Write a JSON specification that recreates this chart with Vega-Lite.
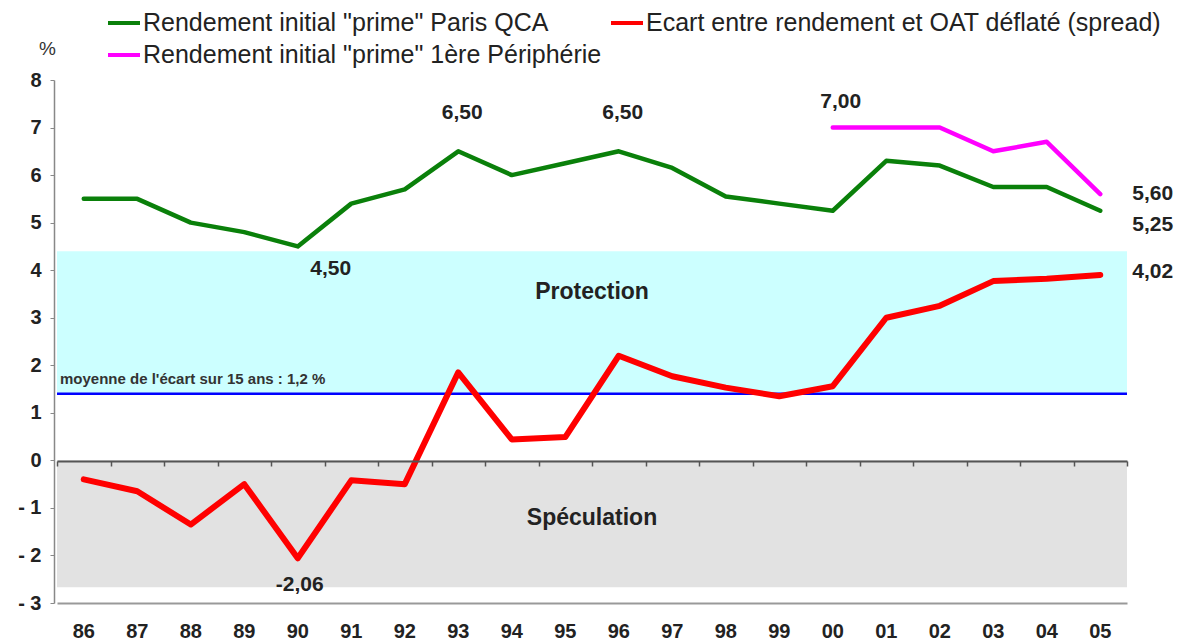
{
  "$schema": "https://vega.github.io/schema/vega-lite/v6.json",
  "width": 1070,
  "height": 523,
  "autosize": {"type": "none"},
  "padding": {"left": 57, "top": 80, "right": 69, "bottom": 41},
  "config": {"view": {"stroke": null}, "font": "Liberation Sans", "axis": {"grid": false}},
  "datasets": {
    "series": [
      {"year": "86", "series": "Rendement initial \"prime\" Paris QCA", "value": 5.5},
      {"year": "87", "series": "Rendement initial \"prime\" Paris QCA", "value": 5.5},
      {"year": "88", "series": "Rendement initial \"prime\" Paris QCA", "value": 5.0},
      {"year": "89", "series": "Rendement initial \"prime\" Paris QCA", "value": 4.8},
      {"year": "90", "series": "Rendement initial \"prime\" Paris QCA", "value": 4.5, "label": "4,50"},
      {"year": "91", "series": "Rendement initial \"prime\" Paris QCA", "value": 5.4},
      {"year": "92", "series": "Rendement initial \"prime\" Paris QCA", "value": 5.7},
      {"year": "93", "series": "Rendement initial \"prime\" Paris QCA", "value": 6.5, "label": "6,50"},
      {"year": "94", "series": "Rendement initial \"prime\" Paris QCA", "value": 6.0},
      {"year": "95", "series": "Rendement initial \"prime\" Paris QCA", "value": 6.25},
      {"year": "96", "series": "Rendement initial \"prime\" Paris QCA", "value": 6.5, "label": "6,50"},
      {"year": "97", "series": "Rendement initial \"prime\" Paris QCA", "value": 6.15},
      {"year": "98", "series": "Rendement initial \"prime\" Paris QCA", "value": 5.55},
      {"year": "99", "series": "Rendement initial \"prime\" Paris QCA", "value": 5.4},
      {"year": "00", "series": "Rendement initial \"prime\" Paris QCA", "value": 5.25},
      {"year": "01", "series": "Rendement initial \"prime\" Paris QCA", "value": 6.3},
      {"year": "02", "series": "Rendement initial \"prime\" Paris QCA", "value": 6.2},
      {"year": "03", "series": "Rendement initial \"prime\" Paris QCA", "value": 5.75},
      {"year": "04", "series": "Rendement initial \"prime\" Paris QCA", "value": 5.75},
      {"year": "05", "series": "Rendement initial \"prime\" Paris QCA", "value": 5.25, "label": "5,25"},
      {"year": "86", "series": "Ecart entre rendement et OAT déflaté (spread)", "value": -0.4},
      {"year": "87", "series": "Ecart entre rendement et OAT déflaté (spread)", "value": -0.65},
      {"year": "88", "series": "Ecart entre rendement et OAT déflaté (spread)", "value": -1.35},
      {"year": "89", "series": "Ecart entre rendement et OAT déflaté (spread)", "value": -0.5},
      {"year": "90", "series": "Ecart entre rendement et OAT déflaté (spread)", "value": -2.06, "label": "-2,06"},
      {"year": "91", "series": "Ecart entre rendement et OAT déflaté (spread)", "value": -0.42},
      {"year": "92", "series": "Ecart entre rendement et OAT déflaté (spread)", "value": -0.5},
      {"year": "93", "series": "Ecart entre rendement et OAT déflaté (spread)", "value": 1.85},
      {"year": "94", "series": "Ecart entre rendement et OAT déflaté (spread)", "value": 0.44},
      {"year": "95", "series": "Ecart entre rendement et OAT déflaté (spread)", "value": 0.49},
      {"year": "96", "series": "Ecart entre rendement et OAT déflaté (spread)", "value": 2.2},
      {"year": "97", "series": "Ecart entre rendement et OAT déflaté (spread)", "value": 1.77},
      {"year": "98", "series": "Ecart entre rendement et OAT déflaté (spread)", "value": 1.53},
      {"year": "99", "series": "Ecart entre rendement et OAT déflaté (spread)", "value": 1.35},
      {"year": "00", "series": "Ecart entre rendement et OAT déflaté (spread)", "value": 1.56},
      {"year": "01", "series": "Ecart entre rendement et OAT déflaté (spread)", "value": 3.0},
      {"year": "02", "series": "Ecart entre rendement et OAT déflaté (spread)", "value": 3.25},
      {"year": "03", "series": "Ecart entre rendement et OAT déflaté (spread)", "value": 3.77},
      {"year": "04", "series": "Ecart entre rendement et OAT déflaté (spread)", "value": 3.82},
      {"year": "05", "series": "Ecart entre rendement et OAT déflaté (spread)", "value": 3.9, "label": "4,02"},
      {"year": "00", "series": "Rendement initial \"prime\" 1ère Périphérie", "value": 7.0, "label": "7,00"},
      {"year": "01", "series": "Rendement initial \"prime\" 1ère Périphérie", "value": 7.0},
      {"year": "02", "series": "Rendement initial \"prime\" 1ère Périphérie", "value": 7.0},
      {"year": "03", "series": "Rendement initial \"prime\" 1ère Périphérie", "value": 6.5},
      {"year": "04", "series": "Rendement initial \"prime\" 1ère Périphérie", "value": 6.7},
      {"year": "05", "series": "Rendement initial \"prime\" 1ère Périphérie", "value": 5.6, "label": "5,60"}
    ]
  },
  "resolve": {"axis": {"x": "independent"}},
  "layer": [
    {
      "data": {"values": [{}]},
      "mark": {"type": "rect", "color": "#ccffff"},
      "encoding": {
        "y": {"datum": 4.4, "type": "quantitative", "scale": {"domain": [-3, 8], "nice": false, "zero": false}},
        "y2": {"datum": 1.4}
      }
    },
    {
      "data": {"values": [{}]},
      "mark": {"type": "rect", "color": "#e2e2e2"},
      "encoding": {
        "y": {"datum": 0, "type": "quantitative"},
        "y2": {"datum": -2.67}
      }
    },
    {
      "data": {"values": [{}]},
      "mark": {"type": "rule", "color": "#0000ff", "strokeWidth": 2.5},
      "encoding": {"y": {"datum": 1.4, "type": "quantitative"}}
    },
    {
      "data": {"name": "series"},
      "mark": {"type": "line", "strokeJoin": "round", "strokeCap": "round"},
      "encoding": {
        "x": {
          "field": "year", "type": "ordinal", "bandPosition": 0.5,
          "scale": {"type": "band", "paddingInner": 0, "paddingOuter": 0, "domain": ["86","87","88","89","90","91","92","93","94","95","96","97","98","99","00","01","02","03","04","05"]},
          "axis": {"orient": "bottom", "title": null, "ticks": false, "labelPadding": 18, "labelFontSize": 20, "labelFontWeight": "bold", "labelColor": "#222", "domainColor": "#999", "domainWidth": 2, "labelAngle": 0}
        },
        "y": {
          "field": "value", "type": "quantitative",
          "scale": {"domain": [-3, 8], "nice": false, "zero": false},
          "axis": {"values": [-3,-2,-1,0,1,2,3,4,5,6,7,8], "labelExpr": "datum.value < 0 ? '- ' + abs(datum.value) : datum.label", "title": "%", "titleAngle": 0, "titleX": -7, "titleY": -32, "titleAlign": "center", "titleBaseline": "middle", "titleFontSize": 19, "titleFontWeight": "normal", "titleColor": "#333", "offset": 3, "tickSize": 4, "labelPadding": 9, "labelFontSize": 20, "labelFontWeight": "bold", "labelColor": "#222", "domainColor": "#888", "domainWidth": 1.5, "tickColor": "#888"}
        },
        "color": {
          "field": "series", "type": "nominal",
          "scale": {"domain": ["Rendement initial \"prime\" Paris QCA", "Rendement initial \"prime\" 1ère Périphérie", "Ecart entre rendement et OAT déflaté (spread)"], "range": ["#0a800a", "#ff00ff", "#ff0000"]},
          "legend": {"orient": "none", "legendX": 49, "legendY": -75, "columns": 2, "title": null, "symbolType": "stroke", "symbolSize": 1024, "symbolStrokeWidth": 4, "labelFontSize": 25, "labelFont": "Liberation Sans", "labelColor": "#222", "labelLimit": 1000, "columnPadding": 1, "rowPadding": 1, "labelOffset": 1, "padding": 0, "symbolOffset": 0}
        },
        "strokeWidth": {"condition": {"test": "datum.series === 'Ecart entre rendement et OAT déflaté (spread)'", "value": 6}, "value": 4.5}
      }
    },
    {
      "data": {"name": "series"},
      "transform": [{"filter": "datum.label == '6,50'"}],
      "mark": {"type": "text", "dx": 4, "dy": -38, "fontSize": 21, "fontWeight": "bold", "color": "#222", "baseline": "middle"},
      "encoding": {
        "x": {"field": "year", "type": "ordinal", "bandPosition": 0.5,
          "axis": {"orient": "bottom", "offset": -142, "labels": false, "title": null, "domain": true, "domainColor": "#555", "domainWidth": 2, "ticks": true, "tickBand": "extent", "tickSize": 5, "tickColor": "#555", "tickWidth": 1.5, "zindex": 1}},
        "y": {"field": "value", "type": "quantitative"},
        "text": {"field": "label"}
      }
    },
    {
      "data": {"name": "series"},
      "transform": [{"filter": "datum.label == '7,00'"}],
      "mark": {"type": "text", "dx": 8, "dy": -26, "fontSize": 21, "fontWeight": "bold", "color": "#222", "baseline": "middle"},
      "encoding": {
        "x": {"field": "year", "type": "ordinal", "bandPosition": 0.5, "axis": null},
        "y": {"field": "value", "type": "quantitative"},
        "text": {"field": "label"}
      }
    },
    {
      "data": {"name": "series"},
      "transform": [{"filter": "datum.label == '4,50'"}],
      "mark": {"type": "text", "dx": 33, "dy": 23, "fontSize": 21, "fontWeight": "bold", "color": "#222", "baseline": "middle"},
      "encoding": {
        "x": {"field": "year", "type": "ordinal", "bandPosition": 0.5, "axis": null},
        "y": {"field": "value", "type": "quantitative"},
        "text": {"field": "label"}
      }
    },
    {
      "data": {"name": "series"},
      "transform": [{"filter": "datum.label == '-2,06'"}],
      "mark": {"type": "text", "dx": 2, "dy": 27, "fontSize": 21, "fontWeight": "bold", "color": "#222", "baseline": "middle"},
      "encoding": {
        "x": {"field": "year", "type": "ordinal", "bandPosition": 0.5, "axis": null},
        "y": {"field": "value", "type": "quantitative"},
        "text": {"field": "label"}
      }
    },
    {
      "data": {"name": "series"},
      "transform": [{"filter": "datum.label == '5,60'"}],
      "mark": {"type": "text", "dx": 32, "dy": 0, "align": "left", "fontSize": 21, "fontWeight": "bold", "color": "#222", "baseline": "middle"},
      "encoding": {
        "x": {"field": "year", "type": "ordinal", "bandPosition": 0.5, "axis": null},
        "y": {"field": "value", "type": "quantitative"},
        "text": {"field": "label"}
      }
    },
    {
      "data": {"name": "series"},
      "transform": [{"filter": "datum.label == '5,25'"}],
      "mark": {"type": "text", "dx": 32, "dy": 14, "align": "left", "fontSize": 21, "fontWeight": "bold", "color": "#222", "baseline": "middle"},
      "encoding": {
        "x": {"field": "year", "type": "ordinal", "bandPosition": 0.5, "axis": null},
        "y": {"field": "value", "type": "quantitative"},
        "text": {"field": "label"}
      }
    },
    {
      "data": {"name": "series"},
      "transform": [{"filter": "datum.label == '4,02'"}],
      "mark": {"type": "text", "dx": 32, "dy": -3, "align": "left", "fontSize": 21, "fontWeight": "bold", "color": "#222", "baseline": "middle"},
      "encoding": {
        "x": {"field": "year", "type": "ordinal", "bandPosition": 0.5, "axis": null},
        "y": {"field": "value", "type": "quantitative"},
        "text": {"field": "label"}
      }
    },
    {
      "data": {"values": [{}]},
      "mark": {"type": "text", "text": "moyenne de l'écart sur 15 ans : 1,2 %", "align": "left", "baseline": "middle", "dx": 3, "dy": -15, "fontSize": 15, "fontWeight": "bold", "color": "#333"},
      "encoding": {
        "x": {"datum": "86", "type": "ordinal", "bandPosition": 0, "axis": null},
        "y": {"datum": 1.4, "type": "quantitative"}
      }
    },
    {
      "data": {"values": [{}]},
      "mark": {"type": "text", "text": "Protection", "align": "center", "baseline": "middle", "fontSize": 23, "fontWeight": "bold", "color": "#222"},
      "encoding": {
        "x": {"datum": "96", "type": "ordinal", "bandPosition": 0, "axis": null},
        "y": {"datum": 3.55, "type": "quantitative"}
      }
    },
    {
      "data": {"values": [{}]},
      "mark": {"type": "text", "text": "Spéculation", "align": "center", "baseline": "middle", "fontSize": 23, "fontWeight": "bold", "color": "#222"},
      "encoding": {
        "x": {"datum": "96", "type": "ordinal", "bandPosition": 0, "axis": null},
        "y": {"datum": -1.22, "type": "quantitative"}
      }
    }
  ]
}
